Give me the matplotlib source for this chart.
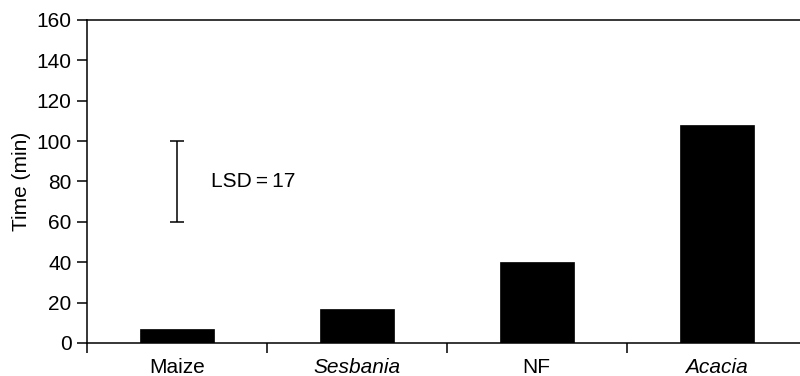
import matplotlib
matplotlib.use("Agg")
import matplotlib.pyplot as plt
import numpy as np

plt.rcParams['font.family'] = ['Liberation Sans', 'DejaVu Sans']

categories = ["Maize", "Sesbania", "NF", "Acacia"]
italic = [False, True, False, True]
times = [7, 17, 40, 108]

# LSD reference bar (drawn at the Maize position)
lsd_label = "LSD = 17"
lsd_low, lsd_high = 60, 100

FS = 15

fig = plt.figure(figsize=(8.0, 3.76), dpi=100)
ax = fig.add_axes([86.7 / 800, 33 / 376, 720 / 800, 323 / 376])

x = np.arange(len(categories))
ax.bar(x, times, width=0.41, color="black", edgecolor="black", linewidth=0.5, zorder=3)

mid = (lsd_low + lsd_high) / 2
half = (lsd_high - lsd_low) / 2
ax.errorbar([0], [mid], yerr=[[half], [half]], fmt="none", ecolor="black",
            elinewidth=1.1, capsize=5, capthick=1.1)
ax.text(0.19, mid, lsd_label.replace(" = ", "\u2009=\u2009"), fontsize=FS,
        va="center", ha="left")

ax.set_xlim(-0.5, len(categories) - 0.5)
ax.set_ylim(0, 160)
ax.set_yticks(np.arange(0, 161, 20))
ax.set_ylabel("Time (min)", fontsize=FS, labelpad=4)

# category labels centred, tick marks at category boundaries
ax.set_xticks(x)
ax.set_xticklabels(categories, fontsize=FS)
for lbl, it in zip(ax.get_xticklabels(), italic):
    if it:
        lbl.set_fontstyle("italic")
ax.tick_params(axis="x", which="major", length=0, pad=11)
ax.set_xticks(np.arange(-0.5, len(categories), 1.0), minor=True)
ax.tick_params(axis="x", which="minor", length=7, width=1.1, direction="out")
ax.tick_params(axis="y", length=7, width=1.1, direction="out", labelsize=FS, pad=4)

for side in ["left", "top", "bottom"]:
    ax.spines[side].set_linewidth(1.1)
ax.spines["right"].set_visible(False)

fig.savefig("out.png", dpi=100)
